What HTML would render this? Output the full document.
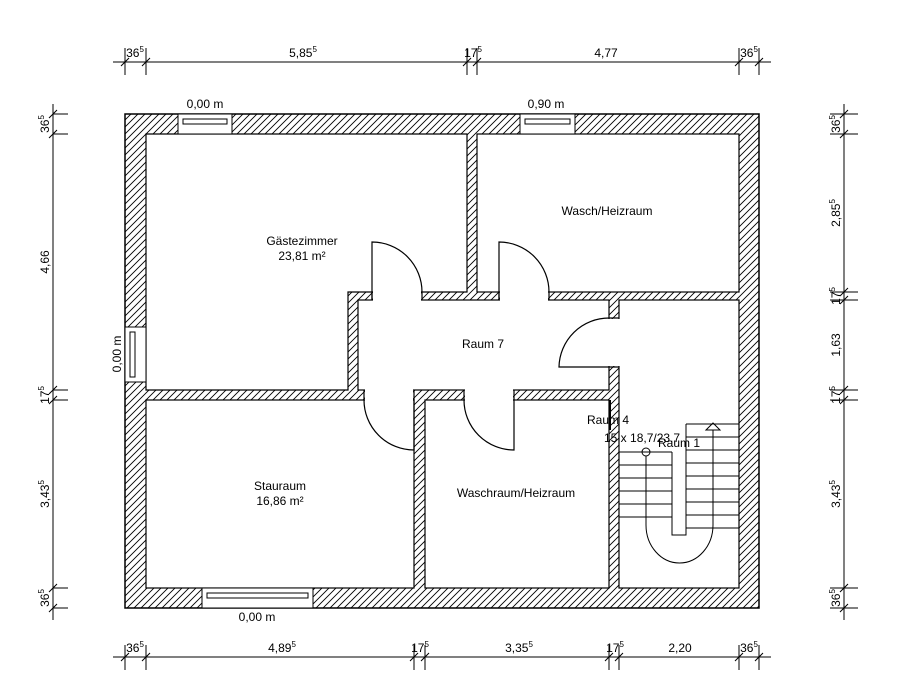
<!DOCTYPE html>
<html><head><meta charset="utf-8"><style>html,body{margin:0;padding:0;background:#fff}svg{display:block}text{font-family:"Liberation Sans",sans-serif;font-size:12px;fill:#000}</style></head><body>
<svg width="909" height="698" viewBox="0 0 909 698" xmlns="http://www.w3.org/2000/svg">
<defs><pattern id="h" patternUnits="userSpaceOnUse" width="7" height="7"><rect width="7" height="7" fill="#fff"/><path d="M-1,8 L8,-1 M-2,2 L2,-2 M5,9 L9,5" stroke="#000" stroke-width="0.9"/></pattern></defs>
<rect x="125" y="114" width="634" height="494" fill="url(#h)" stroke="#000" stroke-width="1.5"/>
<g fill="#fff" stroke="#000" stroke-width="1.2">
<polygon points="146,134 467,134 467,292 348,292 348,390 146,390"/>
<rect x="477" y="134" width="262" height="158"/>
<rect x="358" y="300" width="251" height="90"/>
<rect x="146" y="400" width="268" height="188"/>
<rect x="425" y="400" width="184" height="188"/>
<rect x="619" y="300" width="120" height="288"/>
</g>
<g fill="#fff" stroke="none">
<rect x="373" y="291" width="48" height="10"/><rect x="500" y="291" width="48" height="10"/>
<rect x="608" y="319" width="12" height="47"/><rect x="365" y="389" width="48" height="12"/><rect x="465" y="389" width="48" height="12"/>
</g>
<g stroke="#000" stroke-width="1.2" fill="none">
<path d="M372,292V300M422,292V300M499,292V300M549,292V300M609,318H619M609,367H619M364,390V400M414,390V400M464,390V400M514,390V400"/>
<path d="M372,300V242A50,50 0 0 1 422,292"/>
<path d="M499,300V242A50,50 0 0 1 549,292"/>
<path d="M609,367H559A50,50 0 0 1 609,318"/>
<path d="M414,400V450A50,50 0 0 1 364,400"/>
<path d="M514,400V450A50,50 0 0 1 464,400"/>
</g>
<g fill="#fff" stroke="#000" stroke-width="1">
<rect x="178" y="114" width="54" height="20"/><rect x="183" y="119" width="44" height="5"/>
<rect x="520" y="114" width="55" height="20"/><rect x="525" y="119" width="45" height="5"/>
<rect x="125" y="327" width="21" height="55"/><rect x="130" y="332" width="5" height="45"/>
<rect x="202" y="588" width="111" height="20"/><rect x="207" y="593" width="101" height="5"/>
</g>
<g stroke="#000" stroke-width="1" fill="none">
<path d="M619,452H672M619,465H672M619,478H672M619,491H672M619,504H672M619,517H672"/>
<path d="M686,424H739M686,437H739M686,450H739M686,463H739M686,476H739M686,489H739M686,502H739M686,515H739M686,528H739"/>
<path d="M672,452V535H686V424"/>
<path d="M646,456V525A33.5,38 0 0 0 713,525V430"/>
<circle cx="646" cy="452" r="4"/>
<path d="M706,430L713,423L720,430Z"/>
<path d="M610,400V430" stroke-width="2"/>
</g>
<g stroke="#000" stroke-width="1" fill="none">
<path d="M113,62H771M125,48V75M146,48V75M467,48V75M477,48V75M739,48V75M759,48V75"/>
<path d="M121,66L129,58M142,66L150,58M463,66L471,58M473,66L481,58M735,66L743,58M755,66L763,58"/>
<path d="M113,657H771M125,645V670M146,645V670M414,645V670M425,645V670M609,645V670M619,645V670M739,645V670M759,645V670"/>
<path d="M121,661L129,653M142,661L150,653M410,661L418,653M421,661L429,653M605,661L613,653M615,661L623,653M735,661L743,653M755,661L763,653"/>
<path d="M53,104V620M53,114H68M53,134H68M53,390H68M53,400H68M53,588H68M53,608H68"/>
<path d="M49,118L57,110M49,138L57,130M49,394L57,386M49,404L57,396M49,592L57,584M49,612L57,604"/>
<path d="M844,104V620M830,114H858M830,134H858M830,292H858M830,300H858M830,390H858M830,400H858M830,588H858M830,608H858"/>
<path d="M840,118L848,110M840,138L848,130M840,296L848,288M840,304L848,296M840,394L848,386M840,404L848,396M840,592L848,584M840,612L848,604"/>
</g>
<g text-anchor="middle">
<text x="135" y="57">36<tspan font-size="8" dy="-5">5</tspan></text>
<text x="303" y="57">5,85<tspan font-size="8" dy="-5">5</tspan></text>
<text x="473" y="57">17<tspan font-size="8" dy="-5">5</tspan></text>
<text x="606" y="57">4,77</text>
<text x="749" y="57">36<tspan font-size="8" dy="-5">5</tspan></text>
<text x="135" y="652">36<tspan font-size="8" dy="-5">5</tspan></text>
<text x="282" y="652">4,89<tspan font-size="8" dy="-5">5</tspan></text>
<text x="420" y="652">17<tspan font-size="8" dy="-5">5</tspan></text>
<text x="519" y="652">3,35<tspan font-size="8" dy="-5">5</tspan></text>
<text x="615" y="652">17<tspan font-size="8" dy="-5">5</tspan></text>
<text x="680" y="652">2,20</text>
<text x="749" y="652">36<tspan font-size="8" dy="-5">5</tspan></text>
<text x="205" y="108">0,00 m</text>
<text x="546" y="108">0,90 m</text>
<text x="257" y="621">0,00 m</text>
<text x="302" y="245">Gästezimmer</text>
<text x="302" y="260">23,81 m²</text>
<text x="607" y="215">Wasch/Heizraum</text>
<text x="483" y="348">Raum 7</text>
<text x="280" y="490">Stauraum</text>
<text x="280" y="505">16,86 m²</text>
<text x="516" y="497">Waschraum/Heizraum</text>
</g>
<text x="587" y="424">Raum 4</text>
<text x="604" y="442">15 x 18,7/23,7</text>
<text x="658" y="447">Raum 1</text>
<g text-anchor="middle">
<text transform="translate(121,354) rotate(-90)">0,00 m</text>
<text transform="translate(49,124) rotate(-90)">36<tspan font-size="8" dy="-5">5</tspan></text>
<text transform="translate(49,262) rotate(-90)">4,66</text>
<text transform="translate(49,395) rotate(-90)">17<tspan font-size="8" dy="-5">5</tspan></text>
<text transform="translate(49,494) rotate(-90)">3,43<tspan font-size="8" dy="-5">5</tspan></text>
<text transform="translate(49,598) rotate(-90)">36<tspan font-size="8" dy="-5">5</tspan></text>
<text transform="translate(840,124) rotate(-90)">36<tspan font-size="8" dy="-5">5</tspan></text>
<text transform="translate(840,213) rotate(-90)">2,85<tspan font-size="8" dy="-5">5</tspan></text>
<text transform="translate(840,296) rotate(-90)">17<tspan font-size="8" dy="-5">5</tspan></text>
<text transform="translate(840,345) rotate(-90)">1,63</text>
<text transform="translate(840,395) rotate(-90)">17<tspan font-size="8" dy="-5">5</tspan></text>
<text transform="translate(840,494) rotate(-90)">3,43<tspan font-size="8" dy="-5">5</tspan></text>
<text transform="translate(840,598) rotate(-90)">36<tspan font-size="8" dy="-5">5</tspan></text>
</g>
</svg>
</body></html>
